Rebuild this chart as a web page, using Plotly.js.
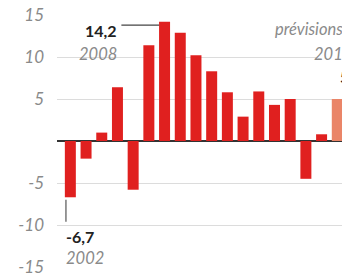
<!DOCTYPE html>
<html>
<head>
<meta charset="utf-8">
<script src="https://cdn.plot.ly/plotly-3.0.1.min.js"></script>
<style>html,body{margin:0;padding:0;background:#fff;}#chart{width:342px;height:279px;}</style>
</head>
<body>
<div id="chart"></div>
<script>
const years = [2002,2003,2004,2005,2006,2007,2008,2009,2010,2011,2012,2013,2014,2015,2016,2017,2018,2019];
const values = [-6.7,-2.1,1.0,6.4,-5.8,11.4,14.2,12.9,10.2,8.3,5.8,2.9,5.9,4.3,5.0,-4.5,0.8,5.0];
const isForecast = [false,false,false,false,false,false,false,false,false,false,false,false,false,false,false,false,false,true];
const tickValues = [-15,-10,-5,0,5,10,15];
const tickLabels = ["-15","-10","-5","","5","10","15"];

const RED = "#e0201f";
const SALMON = "#ea8568";
const fontFam = "Lato, 'Open Sans', sans-serif";

const trace = {
  type: "bar",
  x: years,
  y: values,
  marker: {color: isForecast.map(f => f ? SALMON : RED), line: {width: 0}},
  hoverinfo: "none"
};

const maxIdx = values.indexOf(Math.max(...values));
const minIdx = values.indexOf(Math.min(...values));
const fmt = v => v.toFixed(1).replace(".", ",");
const last = years.length - 1;

const layout = {
  width: 342, height: 279,
  margin: {l: 57, r: 0, t: 15, b: 12},
  paper_bgcolor: "#fff", plot_bgcolor: "#fff",
  showlegend: false,
  bargap: 0.3,
  xaxis: {range: [2001.15, 2019.3], showticklabels: false, showgrid: false, zeroline: false, fixedrange: true},
  yaxis: {
    range: [-15, 15], tickvals: tickValues, ticktext: tickLabels,
    showgrid: true, gridcolor: "#dcdcdc", gridwidth: 1,
    zeroline: true, zerolinecolor: "#333", zerolinewidth: 1.5,
    ticks: "", ticklabelstandoff: 12,
    tickfont: {family: fontFam, size: 17, color: "#8a8a8a", style: "italic"}
  },
  shapes: [
    {type: "rect", layer: "between", xref: "x", yref: "y", x0: 2017.65, x1: 2019.6, y0: 6.6, y1: 15.6, fillcolor: "#fff", line: {width: 0}},
    {type: "line", xref: "x", yref: "y", x0: 2005.25, x1: years[maxIdx] - 0.35, y0: 13.8, y1: 13.8, line: {color: "#444", width: 1.2}},
    {type: "line", xref: "x", yref: "y", x0: 2001.72, x1: 2001.72, y0: values[minIdx] - 0.3, y1: -9.6, line: {color: "#555", width: 1.2}}
  ],
  annotations: [
    {xref: "x", yref: "y", x: 2005.08, y: 13.1, xanchor: "right", yanchor: "middle", showarrow: false,
     text: "<b>" + fmt(values[maxIdx]) + "</b>", font: {family: fontFam, size: 16, color: "#222"}},
    {xref: "x", yref: "y", x: 2005.08, y: 10.3, xanchor: "right", yanchor: "middle", showarrow: false,
     text: String(years[maxIdx]), font: {family: fontFam, size: 16.5, color: "#8a8a8a", style: "italic"}},
    {xref: "x", yref: "y", x: 2001.62, y: -11.4, xanchor: "left", yanchor: "middle", showarrow: false,
     text: "<b>" + fmt(values[minIdx]) + "</b>", font: {family: fontFam, size: 16, color: "#222"}},
    {xref: "x", yref: "y", x: 2001.62, y: -13.9, xanchor: "left", yanchor: "middle", showarrow: false,
     text: String(years[minIdx]), font: {family: fontFam, size: 16.5, color: "#8a8a8a", style: "italic"}},
    {xref: "x", yref: "y", x: 2014.9, y: 13.3, xanchor: "left", yanchor: "middle", showarrow: false,
     text: "prévisions", font: {family: fontFam, size: 16.5, color: "#8a8a8a", style: "italic"}},
    {xref: "x", yref: "y", x: 2017.4, y: 10.4, xanchor: "left", yanchor: "middle", showarrow: false,
     text: String(years[last]), font: {family: fontFam, size: 16.5, color: "#8a8a8a", style: "italic"}},
    {xref: "x", yref: "y", x: 2019.05, y: 7.7, xanchor: "left", yanchor: "middle", showarrow: false,
     text: "<b>" + fmt(values[last]) + "</b>", font: {family: fontFam, size: 16, color: "#222"}}
  ]
};

Plotly.newPlot("chart", [trace], layout, {displayModeBar: false, staticPlot: true});
</script>
</body>
</html>
